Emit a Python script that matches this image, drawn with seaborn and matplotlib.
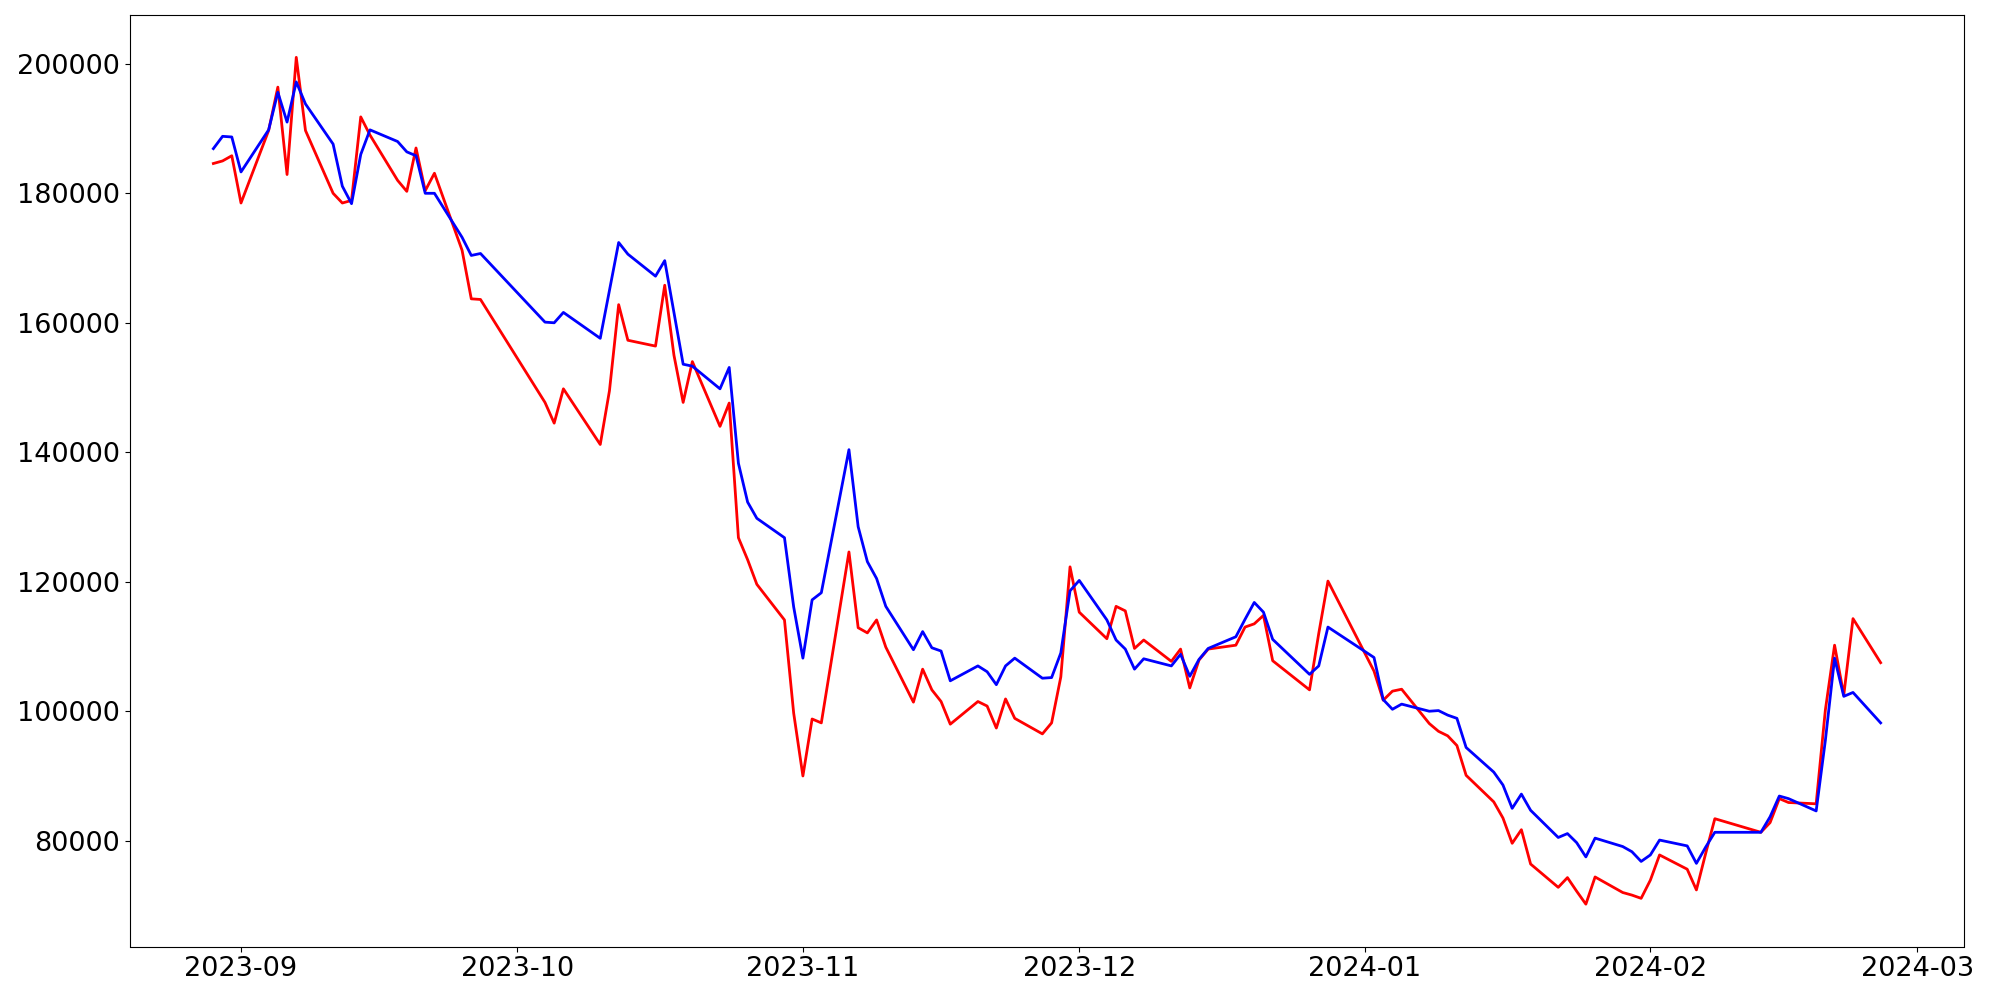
import matplotlib
matplotlib.use("Agg")
import matplotlib.pyplot as plt
import seaborn as sns
import pandas as pd

dates = [
    "2023-08-29", "2023-08-30", "2023-08-31", "2023-09-01",
    "2023-09-04", "2023-09-05", "2023-09-06", "2023-09-07", "2023-09-08",
    "2023-09-11", "2023-09-12", "2023-09-13", "2023-09-14", "2023-09-15",
    "2023-09-18", "2023-09-19", "2023-09-20", "2023-09-21", "2023-09-22",
    "2023-09-25", "2023-09-26", "2023-09-27",
    "2023-10-04", "2023-10-05", "2023-10-06",
    "2023-10-10", "2023-10-11", "2023-10-12", "2023-10-13",
    "2023-10-16", "2023-10-17", "2023-10-18", "2023-10-19", "2023-10-20",
    "2023-10-23", "2023-10-24", "2023-10-25", "2023-10-26", "2023-10-27",
    "2023-10-30", "2023-10-31", "2023-11-01", "2023-11-02", "2023-11-03",
    "2023-11-06", "2023-11-07", "2023-11-08", "2023-11-09", "2023-11-10",
    "2023-11-13", "2023-11-14", "2023-11-15", "2023-11-16", "2023-11-17",
    "2023-11-20", "2023-11-21", "2023-11-22", "2023-11-23", "2023-11-24",
    "2023-11-27", "2023-11-28", "2023-11-29", "2023-11-30", "2023-12-01",
    "2023-12-04", "2023-12-05", "2023-12-06", "2023-12-07", "2023-12-08",
    "2023-12-11", "2023-12-12", "2023-12-13", "2023-12-14", "2023-12-15",
    "2023-12-18", "2023-12-19", "2023-12-20", "2023-12-21", "2023-12-22",
    "2023-12-26", "2023-12-27", "2023-12-28",
    "2024-01-02", "2024-01-03", "2024-01-04", "2024-01-05",
    "2024-01-08", "2024-01-09", "2024-01-10", "2024-01-11", "2024-01-12",
    "2024-01-15", "2024-01-16", "2024-01-17", "2024-01-18", "2024-01-19",
    "2024-01-22", "2024-01-23", "2024-01-24", "2024-01-25", "2024-01-26",
    "2024-01-29", "2024-01-30", "2024-01-31", "2024-02-01", "2024-02-02",
    "2024-02-05", "2024-02-06", "2024-02-07", "2024-02-08",
    "2024-02-13", "2024-02-14", "2024-02-15", "2024-02-16",
    "2024-02-19", "2024-02-20", "2024-02-21", "2024-02-22", "2024-02-23",
    "2024-02-26",
]

red_values = [
    184600, 185000, 185800, 178500,
    189700, 196400, 182900, 201000, 189700,
    180000, 178500, 178900, 191800, 189000,
    182000, 180300, 187000, 180400, 183100,
    171200, 163700, 163600,
    147700, 144500, 149800,
    141200, 149500, 162800, 157300,
    156400, 165800, 155000, 147700, 154000,
    144000, 147600, 126800, 123400, 119600,
    114100, 99700, 90000, 98800, 98200,
    124600, 112900, 112100, 114100, 109900,
    101400, 106500, 103300, 101500, 98000,
    101500, 100800, 97400, 101900, 98900,
    96500, 98200, 105300, 122300, 115300,
    111200, 116200, 115500, 109700, 111000,
    107700, 109600, 103600, 107900, 109600,
    110200, 113000, 113500, 114800, 107800,
    103300, 112000, 120100,
    106200, 101700, 103100, 103400,
    98100, 96900, 96200, 94700, 90100,
    86000, 83500, 79600, 81700, 76400,
    72800, 74300, 72200, 70200, 74400,
    72000, 71600, 71100, 73900, 77800,
    75600, 72400, 78000, 83400,
    81300, 82800, 86500, 85900,
    85700, 100200, 110200, 102500, 114300,
    107500,
]

blue_values = [
    186900, 188800, 188700, 183300,
    189800, 195600, 191000, 197200, 193800,
    187600, 181100, 178400, 186000, 189800,
    188000, 186400, 185800, 180000, 180000,
    173200, 170400, 170700,
    160100, 160000, 161600,
    157600, 165000, 172400, 170600,
    167200, 169600, 161600, 153600, 153300,
    149800, 153100, 138300, 132300, 129800,
    126800, 116100, 108200, 117200, 118300,
    140400, 128500, 123100, 120500, 116200,
    109500, 112300, 109800, 109300, 104700,
    107000, 106100, 104100, 107000, 108200,
    105100, 105200, 109000, 118600, 120200,
    114100, 111000, 109600, 106500, 108100,
    107000, 108800, 105400, 108000, 109700,
    111500, 114200, 116800, 115300, 111100,
    105700, 107000, 113000,
    108300, 101800, 100300, 101100,
    100000, 100100, 99400, 98900, 94400,
    90600, 88600, 85000, 87200, 84700,
    80500, 81100, 79700, 77500, 80400,
    79100, 78300, 76800, 77800, 80100,
    79200, 76500, 79000, 81300,
    81300, 83700, 86900, 86500,
    84600, 95500, 108200, 102300, 102900,
    98200,
]

df = pd.DataFrame({
    "date": pd.to_datetime(dates),
    "red": red_values,
    "blue": blue_values,
})

fig, ax = plt.subplots(figsize=(20, 10), dpi=100)
sns.lineplot(data=df, x="date", y="red", color="red", linewidth=2, ax=ax)
sns.lineplot(data=df, x="date", y="blue", color="blue", linewidth=2, ax=ax)

ax.set_xlabel("")
ax.set_ylabel("")
ax.tick_params(axis="both", labelsize=19.5)

fig.subplots_adjust(left=0.065, right=0.982, top=0.985, bottom=0.0535)
fig.savefig("out.png", dpi=100)
